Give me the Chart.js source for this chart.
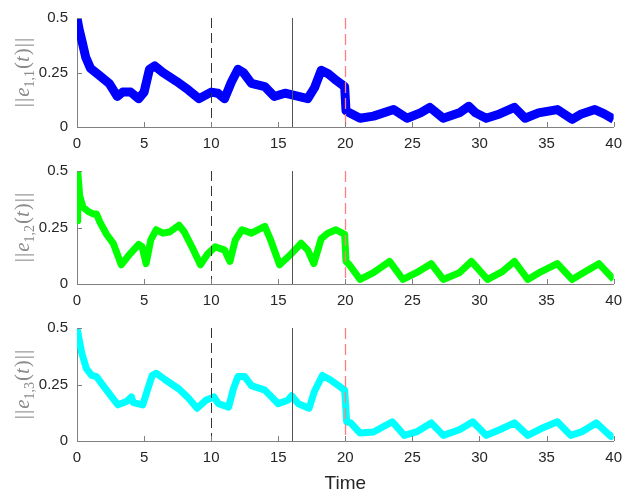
<!DOCTYPE html>
<html>
<head>
<meta charset="utf-8">
<script src="https://cdn.jsdelivr.net/npm/chart.js@4/dist/chart.umd.min.js"></script>
<style>
  body { margin: 0; background: #fff; }
  #wrap { position: relative; width: 630px; height: 496px; }
  canvas { position: absolute; left: 0; top: 0; }
</style>
</head>
<body>
<div id="wrap">
  <canvas id="c1" width="630" height="496"></canvas>
  <canvas id="c2" width="630" height="496"></canvas>
  <canvas id="c3" width="630" height="496"></canvas>
</div>
<script>
"use strict"

// data
const xTicks = [0, 5, 10, 15, 20, 25, 30, 35, 40]
const yTicks = [0, 0.25, 0.5]
const markers = [10, 16, 20]

const t11 = [0, 0.15, 0.35, 0.65, 1.0, 1.7, 2.4, 3.0, 3.4, 4.0,
  4.6, 5.0, 5.4, 5.8, 6.4, 7.4, 8.3, 9.1, 10.0, 10.5,
  11.0, 11.5, 12.0, 12.4, 13.0, 14.0, 14.7, 15.5, 16.5, 17.2,
  17.7, 18.2, 18.7, 19.2, 19.95, 20.05, 20.3, 21.1, 22.1, 23.6,
  24.6, 25.6, 26.3, 27.3, 28.5, 29.2, 29.7, 30.5, 31.5, 32.6,
  33.4, 34.4, 35.8, 36.9, 37.6, 38.6, 39.3, 40]
const e11 = [0.5, 0.45, 0.40, 0.32, 0.27, 0.235, 0.20, 0.14, 0.16, 0.16,
  0.13, 0.16, 0.265, 0.28, 0.25, 0.21, 0.17, 0.13, 0.16, 0.155,
  0.13, 0.205, 0.265, 0.25, 0.20, 0.185, 0.14, 0.155, 0.14, 0.13,
  0.18, 0.26, 0.245, 0.22, 0.185, 0.075, 0.065, 0.04, 0.05, 0.08,
  0.04, 0.065, 0.09, 0.04, 0.065, 0.095, 0.065, 0.04, 0.06, 0.09,
  0.04, 0.065, 0.08, 0.035, 0.06, 0.08, 0.06, 0.035]

const t12 = [0, 0.05, 0.2, 0.45, 0.85, 1.2, 1.45, 1.7, 2.2, 2.7,
  3.3, 3.9, 4.6, 4.85, 5.15, 5.5, 5.9, 6.4, 6.9, 7.6,
  8.0, 8.6, 9.2, 9.7, 10.3, 11.0, 11.4, 11.8, 12.3, 13.0,
  14.0, 14.4, 15.1, 16.0, 16.7, 17.2, 17.65, 18.2, 18.7, 19.3,
  19.95, 20.05, 20.3, 21.1, 22.1, 23.3, 24.3, 25.3, 26.4, 27.3,
  28.5, 29.4, 30.6, 31.7, 32.6, 33.6, 34.6, 35.8, 36.9, 37.9,
  38.9, 40]
const e12 = [0.28, 0.5, 0.39, 0.34, 0.32, 0.31, 0.31, 0.275, 0.22, 0.18,
  0.085, 0.13, 0.175, 0.165, 0.09, 0.195, 0.24, 0.225, 0.23, 0.26,
  0.23, 0.16, 0.085, 0.13, 0.165, 0.15, 0.10, 0.195, 0.24, 0.225,
  0.255, 0.20, 0.085, 0.135, 0.18, 0.15, 0.09, 0.20, 0.225, 0.24,
  0.22, 0.10, 0.085, 0.02, 0.05, 0.10, 0.02, 0.05, 0.09, 0.02,
  0.05, 0.10, 0.02, 0.055, 0.10, 0.02, 0.055, 0.09, 0.02, 0.055,
  0.09, 0.02]

const t13 = [0, 0.35, 0.7, 1.1, 1.45, 1.95, 2.4, 3.05, 3.7, 4.05,
  4.2, 4.9, 5.25, 5.6, 5.9, 6.6, 7.6, 8.3, 8.95, 9.6,
  10.2, 10.55, 11.3, 11.65, 12.0, 12.5, 13.0, 14.0, 15.0, 15.7,
  16.0, 16.5, 17.3, 17.7, 18.3, 18.9, 19.95, 20.1, 20.4, 21.1,
  22.1, 23.5, 24.4, 25.3, 26.4, 27.3, 28.5, 29.5, 30.5, 31.5,
  32.6, 33.6, 34.6, 35.8, 36.8, 37.6, 38.7, 39.8, 40]
const e13 = [0.5, 0.39, 0.32, 0.29, 0.285, 0.245, 0.21, 0.16, 0.175, 0.195,
  0.17, 0.16, 0.225, 0.29, 0.30, 0.27, 0.23, 0.19, 0.145, 0.18,
  0.195, 0.165, 0.15, 0.23, 0.285, 0.285, 0.245, 0.225, 0.165, 0.18,
  0.20, 0.165, 0.145, 0.22, 0.29, 0.27, 0.225, 0.085, 0.08, 0.035,
  0.04, 0.085, 0.025, 0.04, 0.08, 0.025, 0.05, 0.085, 0.025, 0.05,
  0.08, 0.025, 0.055, 0.085, 0.025, 0.04, 0.08, 0.02, 0.03]

// styling
const axisColor = "#808080"
const textColor = "#262626"
const tickFont = { family: "Liberation Sans, Arial, sans-serif", size: 15 }
const serif = "'Liberation Serif', serif"
const markerStyles = [
  { color: "#333333", dash: [10, 5], width: 1 },
  { color: "#555555", dash: [], width: 1 },
  { color: "#ff7f7f", dash: [11, 5], width: 1.3 },
]

// extra drawing: inward ticks, vertical markers, y label, x title
const decorPlugin = {
  id: "decor",
  afterDatasetsDraw(chart, args, opts) {
    const ctx = chart.ctx
    const area = chart.chartArea
    const xs = chart.scales.x
    const ys = chart.scales.y
    ctx.save()
    // vertical markers
    markers.forEach((m, i) => {
      const st = markerStyles[i]
      const px = Math.round(xs.getPixelForValue(m)) + 0.5
      ctx.strokeStyle = st.color
      ctx.lineWidth = st.width
      ctx.setLineDash(st.dash)
      ctx.beginPath()
      ctx.moveTo(px, area.top)
      ctx.lineTo(px, area.bottom)
      ctx.stroke()
    })
    ctx.setLineDash([])
    // inward ticks
    ctx.strokeStyle = axisColor
    ctx.lineWidth = 1
    ctx.beginPath()
    xTicks.forEach((v) => {
      const px = Math.round(xs.getPixelForValue(v)) + 0.5
      ctx.moveTo(px, area.bottom)
      ctx.lineTo(px, area.bottom - 5)
    })
    yTicks.forEach((v) => {
      const py = Math.round(ys.getPixelForValue(v)) + 0.5
      ctx.moveTo(area.left, py)
      ctx.lineTo(area.left + 5, py)
    })
    ctx.stroke()
    ctx.restore()
  },
  afterDraw(chart, args, opts) {
    const ctx = chart.ctx
    const area = chart.chartArea
    ctx.save()
    // rotated y label  ||e_{1,k}(t)||
    const parts = [
      { s: "|", f: "21px " + serif, dy: 0, gap: 1 },
      { s: "|", f: "21px " + serif, dy: 0, gap: 1 },
      { s: "e", f: "italic 21px " + serif, dy: 0, gap: 0 },
      { s: opts.sub, f: "14px " + serif, dy: 5, gap: 1 },
      { s: "(", f: "21px " + serif, dy: 0, gap: 0 },
      { s: "t", f: "italic 21px " + serif, dy: 0, gap: 1 },
      { s: ")", f: "21px " + serif, dy: 0, gap: 1 },
      { s: "|", f: "21px " + serif, dy: 0, gap: 1 },
      { s: "|", f: "21px " + serif, dy: 0, gap: 0 },
    ]
    let total = 0
    parts.forEach((p) => {
      ctx.font = p.f
      p.w = ctx.measureText(p.s).width + p.gap
      total += p.w
    })
    ctx.translate(29, (area.top + area.bottom) / 2)
    ctx.rotate(-Math.PI / 2)
    ctx.fillStyle = "#8a8a8a"
    ctx.textBaseline = "alphabetic"
    let x = -total / 2
    parts.forEach((p) => {
      ctx.font = p.f
      ctx.fillText(p.s, x, p.dy)
      x += p.w
    })
    ctx.restore()
    if (opts.title) {
      ctx.save()
      ctx.fillStyle = textColor
      ctx.font = "19px 'Liberation Sans', Arial, sans-serif"
      ctx.textAlign = "center"
      ctx.textBaseline = "middle"
      ctx.fillText(opts.title, (area.left + area.right) / 2, area.bottom + 43)
      ctx.restore()
    }
  },
}

function toPoints(ts, vs) {
  return ts.map((t, i) => ({ x: t, y: vs[i] }))
}

function makePanel(canvasId, ts, vs, color, lineWidth, sub, plotTop, plotBottom, title) {
  return new Chart(document.getElementById(canvasId), {
    type: "line",
    data: {
      datasets: [
        {
          data: toPoints(ts, vs),
          borderColor: color,
          borderWidth: lineWidth,
          borderJoinStyle: "round",
          borderCapStyle: "butt",
          pointRadius: 0,
          tension: 0,
          fill: false,
        },
      ],
    },
    options: {
      responsive: false,
      animation: false,
      events: [],
      layout: {
        padding: { top: plotTop, bottom: 496 - plotBottom - 28, left: 0, right: 11 },
      },
      plugins: {
        legend: { display: false },
        tooltip: { enabled: false },
        decor: { sub: sub, title: title },
      },
      scales: {
        x: {
          type: "linear",
          min: 0,
          max: 40,
          afterBuildTicks: (s) => { s.ticks = xTicks.map((v) => ({ value: v })) },
          afterFit: (s) => { s.height = 28 },
          grid: { display: false, drawTicks: false },
          border: { display: true, color: axisColor, width: 1 },
          ticks: { color: textColor, font: tickFont, padding: 8, maxRotation: 0, callback: (v) => String(v) },
        },
        y: {
          type: "linear",
          min: 0,
          max: 0.5,
          afterBuildTicks: (s) => { s.ticks = yTicks.map((v) => ({ value: v })) },
          afterFit: (s) => { s.width = 77 },
          grid: { display: false, drawTicks: false },
          border: { display: true, color: axisColor, width: 1 },
          ticks: { color: textColor, font: tickFont, padding: 9, callback: (v) => String(v) },
        },
      },
    },
    plugins: [decorPlugin],
  })
}

makePanel("c1", t11, e11, "#0000ff", 9, "1,1", 13, 127, null)
makePanel("c2", t12, e12, "#00ff00", 7, "1,2", 171, 284, null)
makePanel("c3", t13, e13, "#00ffff", 7, "1,3", 328, 441, "Time")
</script>
</body>
</html>
